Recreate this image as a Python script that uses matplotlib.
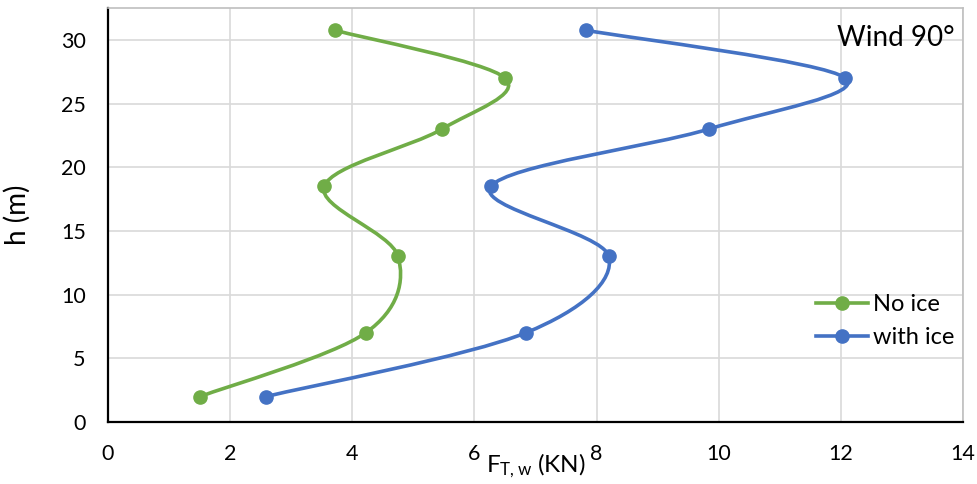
import matplotlib
matplotlib.use("Agg")
import matplotlib.pyplot as plt
import numpy as np
from matplotlib.path import Path
from matplotlib.patches import PathPatch
from matplotlib.lines import Line2D

plt.rcParams["font.family"] = ["Lato", "DejaVu Sans"]
plt.rcParams["mathtext.default"] = "regular"

heights = [2, 7, 13, 18.5, 23, 27, 30.75]
force_no_ice = [1.51, 4.22, 4.75, 3.54, 5.47, 6.50, 3.72]
force_with_ice = [2.59, 6.84, 8.20, 6.27, 9.84, 12.07, 7.83]

GREEN = "#70AD47"
BLUE = "#4472C4"


def smooth_path(xs, ys):
    # cubic Bezier through the points, Catmull-Rom style tangents
    p = np.column_stack([xs, ys]).astype(float)
    n = len(p)
    verts = [p[0]]
    codes = [Path.MOVETO]
    for i in range(n - 1):
        prev = p[max(i - 1, 0)]
        nxt = p[min(i + 2, n - 1)]
        c1 = p[i] + (p[i + 1] - prev) / 6.0
        c2 = p[i + 1] - (nxt - p[i]) / 6.0
        verts += [c1, c2, p[i + 1]]
        codes += [Path.CURVE4] * 3
    return Path(verts, codes)


fig = plt.figure(figsize=(9.78, 4.84), dpi=100)
ax = fig.add_axes([0.1104, 0.1281, 0.8743, 0.8554])

series = [(force_no_ice, GREEN, "No ice"), (force_with_ice, BLUE, "with ice")]
handles = []
for xs, color, label in series:
    patch = PathPatch(smooth_path(xs, heights), facecolor="none",
                      edgecolor=color, linewidth=2.6, capstyle="round", zorder=3)
    ax.add_patch(patch)
    ax.plot(xs, heights, linestyle="none", marker="o", markersize=9.5,
            color=color, zorder=4)
    handles.append(Line2D([], [], color=color, linewidth=2.6, marker="o",
                          markersize=9.5, label=label))

ax.set_xlim(0, 14)
ax.set_ylim(0, 32.5)
ax.set_xticks(range(0, 15, 2))
ax.set_yticks(range(0, 31, 5))
ax.grid(True, color="#D9D9D9", linewidth=1.2)
ax.set_axisbelow(True)
ax.tick_params(length=0, labelsize=15.5, pad=16)

for side in ("left", "bottom"):
    ax.spines[side].set_color("black")
    ax.spines[side].set_linewidth(1.6)
for side in ("top", "right"):
    ax.spines[side].set_color("#BFBFBF")
    ax.spines[side].set_linewidth(1.2)

ax.set_xlabel(r"F$_{T,w}$ (KN)", fontsize=17.5, labelpad=-9)
ax.set_ylabel("h (m)", fontsize=20, labelpad=22)

ax.text(0.99, 0.927, "Wind 90°", transform=ax.transAxes, fontsize=20,
        ha="right", va="center")

ax.legend(handles=handles, loc="center right", bbox_to_anchor=(0.99, 0.243),
          frameon=False, fontsize=17, handlelength=2.2, handletextpad=0.2,
          borderpad=0, borderaxespad=0, labelspacing=0.5)

fig.savefig("out.png", dpi=100)
